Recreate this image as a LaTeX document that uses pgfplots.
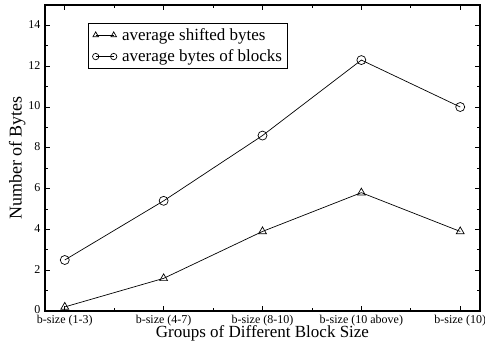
\documentclass[border=0pt]{standalone}
\usepackage{pgfplots}
\pgfplotsset{compat=1.18}
\usepackage{fontspec}
\setmainfont{Liberation Serif}
\begin{document}
\begin{tikzpicture}[x=1pt,y=1pt]
\begin{axis}[
  at={(0pt,0pt)}, anchor=south west,
  scale only axis, width=435pt, height=306pt,
  xmin=-0.2, xmax=4.2, ymin=0, ymax=15,
  xtick={0,1,2,3,4},
  xticklabels={b-size (1-3),b-size (4-7),b-size (8-10),b-size (10 above),b-size (10)},
  minor xtick={0.5,1.5,2.5,3.5},
  ytick={0,2,4,6,8,10,12,14},
  minor ytick={1,3,5,7,9,11,13},
  tick align=inside,
  major tick length=5pt, minor tick length=3pt,
  tick style={black, line width=0.8pt},
  axis line style={line width=1.3pt},
  xticklabel style={font=\fontsize{12}{13}\selectfont, yshift=-0.5pt},
  yticklabel style={font=\fontsize{12}{13}\selectfont, xshift=-1pt, yshift=1pt},
  /pgf/number format/assume math mode=true,
  xlabel={Groups of Different Block Size},
  ylabel={Number of Bytes},
  xlabel style={font=\fontsize{17}{18}\selectfont, yshift=7pt},
  ylabel style={font=\fontsize{18}{19}\selectfont, yshift=-4pt},
  legend style={at={(0.099,0.941)}, anchor=north west, draw=black, line width=0.6pt,
    font=\fontsize{17}{18}\selectfont, row sep=4pt, inner sep=3pt, cells={anchor=west}},
  legend image code/.code={
    \path (-4pt,0pt) (24pt,0pt);
    \draw[#1] (0pt,0pt) -- (18pt,0pt);
    \draw[#1] plot[only marks, mark size=3.2pt] coordinates {(0pt,0pt)};
    \draw[#1] plot[only marks, mark size=3.2pt] coordinates {(18pt,0pt)};
  },
  legend cell align=left,
]
\addplot[black, line width=0.7pt, mark=triangle, mark size=4.5pt, mark options={solid, line width=0.7pt}]
  coordinates {(0,0.2) (1,1.6) (2,3.9) (3,5.8) (4,3.9)};
\addlegendentry{average shifted bytes}
\addplot[black, line width=0.7pt, mark=o, mark size=4.5pt, mark options={solid, line width=0.7pt}]
  coordinates {(0,2.5) (1,5.4) (2,8.6) (3,12.3) (4,10.0)};
\addlegendentry{average bytes of blocks}
\end{axis}
\pgfresetboundingbox
\path[use as bounding box] (-45pt,-36pt) rectangle (440pt,311pt);
\end{tikzpicture}
\end{document}
